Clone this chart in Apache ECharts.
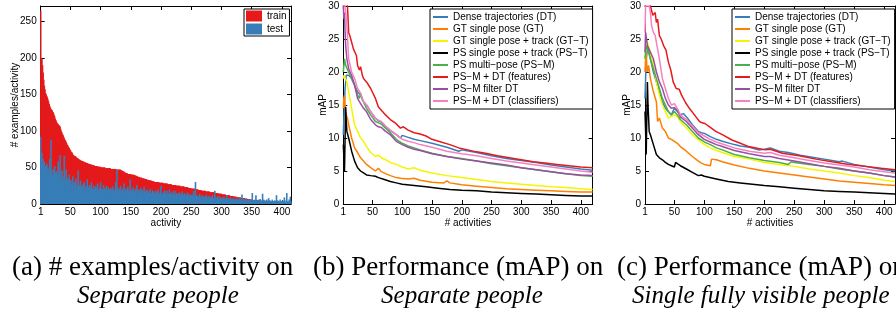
<!DOCTYPE html>
<html>
<head>
<meta charset="utf-8">
<script src="https://cdn.jsdelivr.net/npm/echarts@6/dist/echarts.min.js"></script>
<style>
  html, body { margin: 0; padding: 0; background: #fff; }
  #main { width: 896px; height: 314px; }
</style>
</head>
<body>
<div id="main"></div>
<script>
// (a) examples per activity, sorted by train count
var train = [
  265,200,198,190,180,170,162,157,152,150, 148,146,143,140,137,134,132,130,129,128,
  126,125,122,120,117,115,113,111,110,109, 108,107,106,103,100,98,96,94,92,90,
  88,87,85,83,81,80,78,77,75,74, 72,71,70,68,67,66,66,65,65,64,
  63,63,62,61,61,60,60,59,59,59, 58,58,57,57,57,56,56,56,55,55,
  55,54,54,54,54,53,53,53,53,52, 52,52,52,52,51,51,51,51,51,50,
  50,50,50,50,50,50,50,49,49,49, 49,49,49,49,49,49,48,48,48,48,
  48,48,48,48,48,47,47,47,47,47, 47,47,47,46,46,45,45,44,44,43,
  43,42,42,42,41,41,41,41,41,41, 40,40,40,40,40,39,39,39,38,38,
  38,37,37,37,36,36,36,36,35,35, 35,35,34,34,34,34,33,33,33,33,
  32,32,32,32,31,31,31,31,30,30, 30,30,30,30,30,30,29,29,29,29,
  29,29,29,28,28,28,28,28,28,28, 27,27,27,27,27,27,27,26,26,26,
  26,26,26,26,25,25,25,25,25,25, 25,24,24,24,24,24,24,24,23,23,
  23,23,23,23,22,22,22,22,22,21, 21,21,21,21,21,20,20,20,20,20,
  20,19,19,19,19,19,18,18,18,18, 18,18,18,17,17,17,17,17,17,17,
  16,16,16,16,16,16,16,15,15,15, 15,15,15,15,14,14,14,14,14,14,
  13,13,13,13,13,13,12,12,12,12, 12,12,12,11,11,11,11,11,11,10,
  10,10,10,10,9,9,9,9,9,9, 9,8,8,8,8,8,8,8,7,7,
  7,7,7,7,6,6,6,6,6,6, 5,5,5,5,5,5,5,5,5,5,
  5,5,5,4,4,4,4,4,4,4, 4,4,4,4,4,4,3,3,3,3,
  3,3,3,3,3,3,3,2,2,2, 2,2,2,2,2,1,1,1,1,1,
  1,1,1,1,1,1,1,1,1,1, 1,1,1,1,1
];
var test = [
  92,68,70,55,62,50,58,45,52,48, 55,42,50,38,45,62,40,88,46,40,
  35,48,38,52,32,42,45,35,40,58, 30,42,67,34,28,46,32,38,28,66,
  33,25,47,30,36,22,32,40,26,30, 33,20,26,38,17,25,30,21,35,19,
  24,28,46,18,26,22,32,16,24,20, 27,15,30,22,18,25,20,34,17,23,
  19,26,15,22,30,18,21,16,25,20, 17,24,14,22,28,18,20,15,23,30,
  16,21,19,14,26,18,22,15,20,25, 14,19,23,16,20,13,22,18,15,24,
  17,20,14,19,30,16,47,18,22,15, 20,14,25,17,19,13,22,16,28,15,
  18,21,13,17,24,15,19,14,34,17, 12,20,16,23,14,18,13,21,16,26,
  13,17,20,12,18,15,22,13,16,19, 12,24,14,17,11,20,15,13,18,12,
  16,21,11,15,13,19,12,17,14,11, 18,13,16,10,20,12,15,11,17,25,
  12,14,10,16,13,19,11,15,12,18, 10,14,12,20,11,15,9,13,17,11,
  14,10,18,12,9,15,11,13,10,16, 12,9,14,11,17,10,13,8,15,11,
  9,13,10,16,8,12,10,14,9,12, 8,13,10,18,9,11,30,8,12,10,
  7,11,9,14,8,10,7,12,9,8, 11,7,10,8,13,7,9,6,11,8,
  7,10,6,9,12,7,8,6,18,7, 9,6,8,11,6,7,10,5,8,6,
  9,5,7,10,6,8,5,7,12,6, 5,8,6,4,9,6,5,7,4,8,
  5,6,4,8,5,7,4,6,5,9, 4,6,5,13,4,7,5,3,6,4,
  8,4,5,3,6,4,7,3,5,4, 15,3,5,4,6,3,12,4,5,3,
  6,4,3,7,4,5,3,14,4,6, 3,5,4,2,6,3,4,8,3,5,
  2,4,3,6,2,4,3,5,2,4, 12,3,5,2,4,3,6,2,4,3,
  5,2,4,9,3,2,5,15,3,4, 2,6,3,10,4
];

var xTicks = [1, 50, 100, 150, 200, 250, 300, 350, 400];
var yTicksA = [0, 50, 100, 150, 200, 250];
var yTicksMap = [0, 5, 10, 15, 20, 25, 30];

var names = ['Dense trajectories (DT)', 'GT single pose (GT)', 'GT single pose + track (GT\u2212T)',
  'PS single pose + track (PS\u2212T)', 'PS multi\u2212pose (PS\u2212M)', 'PS\u2212M + DT (features)',
  'PS\u2212M filter DT', 'PS\u2212M + DT (classifiers)'];
var colors = ['#377eb8', '#ff7f00', '#f5f500', '#000000', '#4daf4a', '#e41a1c', '#984ea3', '#f781bf'];

// (b) mAP vs # activities, separate people  [activity, mAP]
var bDT = [[1,10.5],[2,13],[3,15.5],[4,17.5],[6,19.5],[10,19.5],[15,19],[20,18],[25,17],[30,16.5],[35,15.5],[40,15],[47,14],[55,13],[60,12.6],[65,12.4],[72,11.7],[80,11.1],[90,10.5],[97,10],[100,10.4],[110,10.1],[120,9.8],[130,9.6],[150,9.2],[175,8.6],[195,8],[200,8.2],[225,7.8],[250,7.3],[275,6.9],[300,6.6],[325,6.3],[350,5.9],[375,5.6],[400,5.3],[420,5.1]];
var bGT = [[1,14.5],[2,16],[3,16.5],[4,15],[5,14],[6,13.5],[8,13],[10,12],[15,10],[20,8.5],[25,7.8],[30,7],[35,6.5],[40,6],[47,5.5],[55,5],[60,5.4],[65,4.9],[72,4.6],[80,4.3],[90,4],[97,3.9],[100,4.1],[110,3.8],[120,3.9],[130,3.6],[150,3.3],[170,3.2],[175,3.5],[180,3.2],[200,2.9],[225,2.7],[250,2.5],[275,2.3],[300,2.2],[325,2.1],[350,2],[375,1.9],[400,1.8],[420,1.8]];
var bGTT = [[1,19],[2,19.5],[3,19.5],[5,19.8],[7,18.5],[10,17],[15,14.5],[20,12],[25,11],[30,10],[35,9.5],[40,8.7],[47,7.8],[55,7.2],[60,7.4],[65,7],[72,6.7],[80,6.3],[90,6],[100,5.6],[110,5.3],[120,5.5],[130,5.1],[150,4.7],[175,4.3],[200,4],[225,3.7],[250,3.4],[275,3.2],[300,3],[325,2.8],[350,2.6],[375,2.5],[400,2.3],[420,2.2]];
var bPST = [[1,9],[2,7],[3,5],[4,5],[5,14.7],[6,12.5],[7,11],[10,10],[15,8],[20,6.5],[25,5.5],[30,5],[35,4.7],[40,4.4],[47,4.3],[55,4.2],[60,4],[70,3.7],[80,3.4],[90,3.2],[100,3],[120,2.8],[140,2.6],[160,2.4],[180,2.2],[200,2.1],[225,2],[250,1.8],[275,1.7],[300,1.6],[325,1.5],[350,1.4],[375,1.3],[400,1.2],[420,1.2]];
var bPSM = [[1,20],[3,22],[5,21],[10,20],[15,19],[20,18],[25,16.5],[28,16],[30,16.8],[33,15.8],[35,15.5],[40,14.5],[47,13.5],[55,12.5],[60,12.3],[63,12.5],[65,12.1],[72,11.5],[80,10.8],[90,9.8],[100,9.2],[110,8.8],[120,8.5],[130,8.2],[150,7.7],[175,7.2],[200,6.9],[225,6.5],[250,6.1],[275,5.8],[300,5.5],[325,5.2],[350,4.9],[375,4.6],[400,4.3],[420,4.2]];
var bFeat = [[1,30],[3,30.5],[5,31],[8,30],[10,26],[12,25.5],[15,24.5],[18,23.5],[20,23.6],[23,22.5],[25,21],[28,20.3],[30,20.8],[33,19.5],[35,19],[40,18.5],[47,17.5],[55,16],[60,14.7],[65,14.2],[72,13.5],[80,12.8],[88,12.3],[97,11.5],[102,11.7],[110,11.2],[120,10.8],[130,10.6],[140,10.3],[150,9.8],[165,9.4],[180,9],[195,8.5],[210,8.2],[225,7.9],[240,7.7],[260,7.3],[280,7],[300,6.7],[320,6.4],[340,6.2],[360,6],[380,5.8],[400,5.6],[420,5.5]];
var bFilter = [[1,30],[2,28],[3,29],[4,26],[5,24],[7,22],[10,20.5],[15,19.5],[20,18],[25,16],[28,15.5],[30,15.5],[35,14.5],[40,14],[47,12.8],[55,12],[60,11.7],[63,11.9],[65,11.6],[72,11],[80,10.5],[90,9.5],[100,9],[110,8.6],[120,8.3],[130,8.1],[150,7.6],[175,7.2],[200,6.8],[225,6.5],[250,6.2],[275,5.9],[300,5.5],[325,5.2],[350,4.9],[375,4.6],[400,4.4],[420,4.3]];
var bClass = [[1,30],[3,30.5],[5,29],[7,27],[10,22],[15,20],[20,19],[25,17.5],[30,16.8],[35,15.5],[40,15],[47,14],[55,13],[60,12.7],[65,12.5],[72,11.8],[80,11.2],[90,10.5],[100,9.8],[110,9.5],[120,9.3],[130,9],[150,8.6],[175,8],[200,7.6],[225,7.3],[250,6.9],[275,6.5],[300,6.2],[325,5.9],[350,5.6],[375,5.3],[400,5],[420,4.8]];

// (c) mAP vs # activities, single fully visible people
var cDT = [[1,16],[2,19],[3,22],[6,24],[10,22],[15,20],[20,18.5],[25,17],[30,15.5],[35,14.5],[40,14],[45,13.5],[50,14.5],[55,14],[60,13.5],[65,13.7],[72,13],[80,12],[90,11],[95,10.8],[100,10.7],[110,10.2],[120,9.8],[130,9.5],[150,9],[160,8.8],[175,8.6],[190,8.2],[200,8.3],[210,8.5],[225,8],[240,7.8],[260,7.4],[280,7.1],[300,6.8],[325,6.4],[330,6.5],[350,6],[375,5.6],[400,5.2],[418,5]];
var cGT = [[1,20],[2,22],[3,23],[4,21],[5,20],[7,21],[10,19],[15,17],[20,15.5],[22,12.5],[25,13],[30,11.5],[35,11],[40,10],[45,9.8],[50,9.5],[55,9.2],[60,8.7],[70,8],[80,7.2],[90,6.5],[95,6.2],[100,6],[110,5.8],[112,6.8],[120,6.7],[130,6.4],[150,5.9],[175,5.4],[200,5],[225,4.7],[250,4.4],[275,4.1],[300,3.8],[325,3.5],[350,3.3],[375,3.1],[400,2.9],[418,2.8]];
var cGTT = [[1,22],[3,25],[5,24.5],[10,23],[15,21],[20,18.5],[25,16.5],[30,15],[35,14],[40,13],[45,13.3],[50,13.5],[55,13.2],[60,12.5],[70,11.5],[80,10.5],[90,9.7],[100,9],[110,8.5],[120,8.1],[130,7.8],[150,7.2],[175,6.8],[200,6.3],[225,6],[250,5.7],[275,5.3],[300,5],[325,4.7],[350,4.3],[375,4],[400,3.6],[418,3.4]];
var cPST = [[1,14],[2,11],[3,7.5],[4,7.5],[5,18.5],[6,15],[8,11],[10,10.5],[15,9],[20,7.5],[25,7],[30,6.7],[35,6.3],[40,6],[45,5.8],[50,5.6],[52,6.3],[55,6.1],[60,5.8],[70,5.3],[80,4.8],[90,4.3],[95,4.4],[100,4.2],[120,3.8],[140,3.4],[160,3.2],[180,3],[200,2.8],[225,2.6],[250,2.4],[275,2.2],[300,2],[325,1.9],[350,1.8],[375,1.7],[400,1.6],[418,1.5]];
var cPSM = [[1,22],[3,24],[5,23.5],[10,22],[15,20.5],[20,19],[25,17.5],[30,16],[35,15],[40,14],[45,13.5],[50,14],[55,13.5],[60,12.8],[70,12],[80,11],[90,10],[100,9.4],[110,9],[120,8.5],[130,8.2],[150,7.5],[175,7],[200,6.6],[225,6.3],[240,6],[245,6.4],[250,6.3],[275,6],[300,5.7],[325,5.3],[350,5],[375,4.7],[400,4.3],[418,4.1]];
var cFeat = [[1,30],[5,31],[10,30],[14,28.6],[18,29],[20,27.5],[22,28],[25,25.5],[28,25],[32,24],[36,23.3],[40,21.5],[44,20.3],[48,18.5],[53,17.5],[55,17.3],[58,17.4],[62,16.5],[69,15.3],[75,14.5],[86,13.2],[92,12.5],[96,12.3],[101,12.2],[110,11.6],[119,11],[130,10.5],[146,9.7],[160,9.2],[174,8.7],[190,8.4],[202,8.2],[210,8.3],[230,7.7],[258,7.3],[286,6.8],[313,6.4],[341,6],[369,5.7],[395,5.4],[418,5.2]];
var cFilter = [[1,23],[2,26],[3,26],[5,24],[10,23],[15,22],[20,20],[25,18.5],[30,17.5],[35,16],[40,15],[45,14.5],[50,14.6],[55,14.2],[60,13.2],[70,12.5],[80,11.5],[90,10.5],[100,9.8],[110,9.4],[120,9],[130,8.7],[150,8.1],[175,7.6],[200,7.2],[210,7.2],[225,6.9],[250,6.5],[275,6.1],[300,5.7],[325,5.4],[350,5],[375,4.7],[400,4.3],[418,4.1]];
var cClass = [[1,26],[2,30],[8,30],[10,29],[12,27],[15,26],[18,25.5],[20,24.5],[25,22],[30,19],[35,17.5],[40,16],[45,15],[50,15.2],[55,14.5],[60,13.5],[70,12.8],[80,11.8],[90,10.8],[100,10.3],[110,9.8],[120,9.4],[130,9.1],[150,8.5],[175,8],[200,7.7],[210,7.8],[225,7.4],[250,7],[275,6.6],[300,6.2],[325,5.9],[350,5.6],[375,5.2],[400,4.9],[418,4.7]];

var bLines = [bDT, bGT, bGTT, bPST, bPSM, bFeat, bFilter, bClass];
var cLines = [cDT, cGT, cGTT, cPST, cPSM, cFeat, cFilter, cClass];

var FONT = 'Liberation Sans';
var SERIF = 'Liberation Serif';

function xAx(grid, max, top, name) {
  return {
    type: 'value', gridIndex: grid, min: 1, max: max, position: top ? 'top' : 'bottom',
    name: top ? '' : name, nameLocation: 'middle', nameGap: 14, nameMoveOverlap: false,
    nameTextStyle: { color: '#000', fontSize: 10, fontFamily: FONT },
    axisLine: { show: true, onZero: false, lineStyle: { color: '#000', width: 1 } },
    axisTick: { show: true, inside: true, length: 4, customValues: xTicks, lineStyle: { color: '#000' } },
    axisLabel: { show: !top, customValues: xTicks, margin: 3, color: '#000', fontSize: 10, fontFamily: FONT },
    splitLine: { show: false }
  };
}
function yAx(grid, max, ticks, right, name, gap) {
  return {
    type: 'value', gridIndex: grid, min: 0, max: max, position: right ? 'right' : 'left',
    name: right ? '' : name, nameLocation: 'middle', nameGap: gap, nameMoveOverlap: false,
    nameTextStyle: { color: '#000', fontSize: 10, fontFamily: FONT },
    axisLine: { show: true, onZero: false, lineStyle: { color: '#000', width: 1 } },
    axisTick: { show: true, inside: true, length: 4, customValues: ticks, lineStyle: { color: '#000' } },
    axisLabel: { show: !right, customValues: ticks, margin: 4, color: '#000', fontSize: 10, fontFamily: FONT },
    splitLine: { show: false }
  };
}

var series = [
  { name: 'train', type: 'bar', xAxisIndex: 0, yAxisIndex: 0, barWidth: 1.6, barGap: '-100%',
    itemStyle: { color: '#e41a1c' }, data: train.map(function (v, i) { return [i + 1, v]; }) },
  { name: 'test', type: 'bar', xAxisIndex: 0, yAxisIndex: 0, barWidth: 1.6, barGap: '-100%',
    itemStyle: { color: '#377eb8' }, data: test.map(function (v, i) { return [i + 1, v]; }) }
];
function addLines(lines, axis) {
  lines.forEach(function (d, k) {
    series.push({
      name: names[k], type: 'line', xAxisIndex: axis, yAxisIndex: axis,
      data: d, showSymbol: false, symbol: 'none', clip: true,
      lineStyle: { color: colors[k], width: 1.5 }, itemStyle: { color: colors[k] }
    });
  });
}
addLines(bLines, 2);
addLines(cLines, 4);

function legendFor(left, data, opts) {
  return Object.assign({
    orient: 'vertical', left: left, top: 9, data: data,
    backgroundColor: '#fff', borderColor: '#000', borderWidth: 1, borderRadius: 0,
    padding: [2, 4, 2, 3], itemGap: 0, itemWidth: 15, itemHeight: 2, itemTextGap: 3,
    icon: 'rect', selectedMode: false,
    textStyle: { color: '#000', fontSize: 10, fontFamily: FONT, lineHeight: 12 }
  }, opts || {});
}

var capFont = '27px "' + SERIF + '"';
var capItalic = 'italic 25px "' + SERIF + '"';
function cap(text, x, y, align, italic) {
  return { type: 'text', x: x, y: y, style: { text: text, font: italic ? capItalic : capFont, fill: '#000', textAlign: align, textVerticalAlign: 'middle' } };
}

var chart = echarts.init(document.getElementById('main'));
chart.setOption({
  animation: false,
  backgroundColor: '#fff',
  grid: [
    { left: 40.7, top: 6, width: 250.3, height: 198, outerBoundsMode: 'none' },
    { left: 343.3, top: 6, width: 249.4, height: 198, outerBoundsMode: 'none' },
    { left: 645, top: 6, width: 250, height: 198, outerBoundsMode: 'none' }
  ],
  xAxis: [xAx(0, 415, false, 'activity'), xAx(0, 415, true),
          xAx(1, 420, false, '# activities'), xAx(1, 420, true),
          xAx(2, 418, false, '# activities'), xAx(2, 418, true)],
  yAxis: [yAx(0, 271, yTicksA, false, '# examples/activity', 20), yAx(0, 271, yTicksA, true),
          yAx(1, 30, yTicksMap, false, 'mAP', 15), yAx(1, 30, yTicksMap, true),
          yAx(2, 30, yTicksMap, false, 'mAP', 13), yAx(2, 30, yTicksMap, true)],
  legend: [
    legendFor(244, ['train', 'test'], { itemWidth: 16, itemHeight: 11, itemGap: 1, padding: [1, 3, 1, 2] }),
    legendFor(430, names),
    legendFor(732, names)
  ],
  graphic: [
    cap('(a) # examples/activity on', 12, 268, 'left'),
    cap('(b) Performance (mAP) on', 313, 268, 'left'),
    cap('(c) Performance (mAP) on', 617, 268, 'left'),
    cap('Separate people', 158, 296, 'center', true),
    cap('Separate people', 462, 296, 'center', true),
    cap('Single fully visible people', 632, 296, 'left', true)
  ],
  series: series
});
</script>
</body>
</html>
